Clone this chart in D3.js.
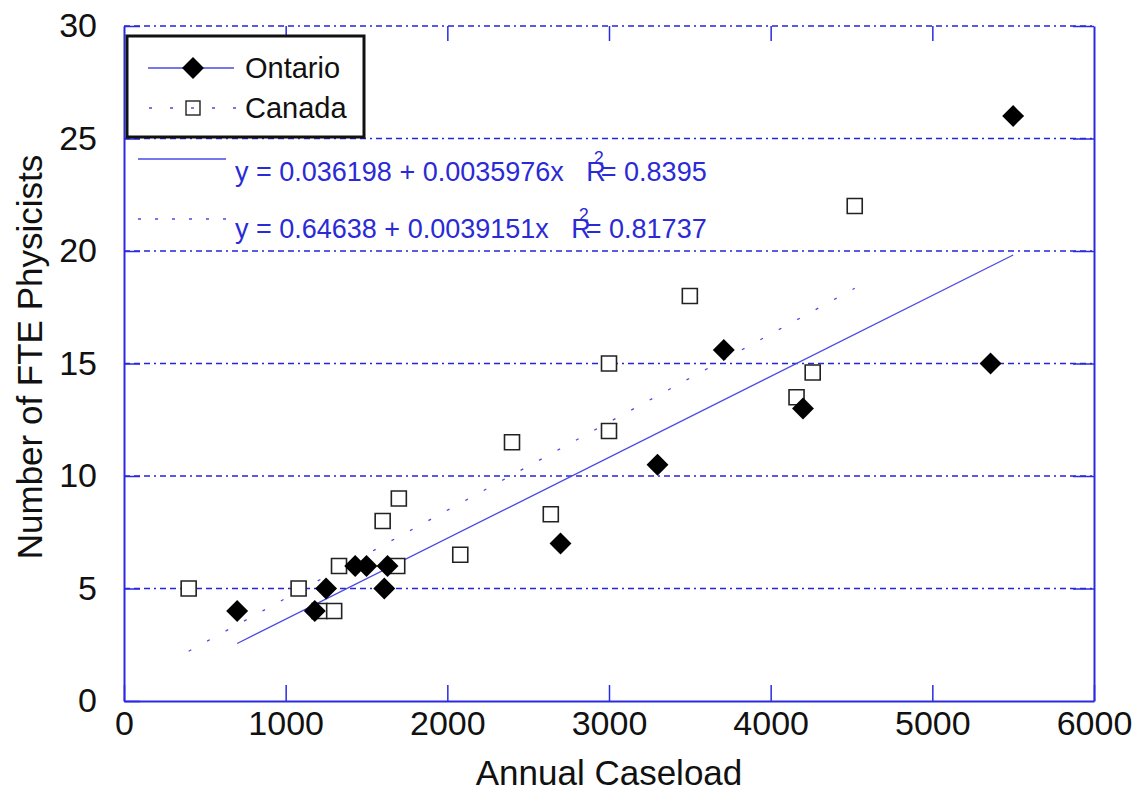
<!DOCTYPE html>
<html><head><meta charset="utf-8">
<script src="https://cdn.jsdelivr.net/npm/d3@7"></script>
<style>
body{margin:0;background:#fff;}
text{font-family:"Liberation Sans",Arial,sans-serif;}
</style></head>
<body><svg id="c" width="1133" height="791"></svg>
<script>
// ---- data ----
const xTicks = [0, 1000, 2000, 3000, 4000, 5000, 6000];
const yTicks = [0, 5, 10, 15, 20, 25, 30];
const ontarioX = [700, 1180, 1250, 1430, 1500, 1630, 1610, 2700, 3300, 3710, 4200, 5360, 5500];
const ontarioY = [4, 4, 5, 6, 6, 6, 5, 7, 10.5, 15.6, 13, 15, 26];
const canadaX = [400, 1080, 1210, 1300, 1330, 1690, 1600, 1700, 2080, 2400, 2640, 3000, 3000, 3500, 4160, 4260, 4520];
const canadaY = [5, 5, 4, 4, 6, 6, 8, 9, 6.5, 11.5, 8.3, 15, 12, 18, 13.5, 14.6, 22];
const seriesNames = ["Ontario", "Canada"];
const fitIntercepts = [0.036198, 0.64638];
const fitSlopes = [0.0035976, 0.0039151];
const fitR2 = ["0.8395", "0.81737"];
const xTitle = "Annual Caseload";
const yTitle = "Number of FTE Physicists";

// ---- layout ----
const svg = d3.select("#c");
const W = 1133, H = 791;
const m = {left:124, right:39, top:26, bottom:90};
const x = d3.scaleLinear().domain([0, 6000]).range([m.left, W - m.right]);
const y = d3.scaleLinear().domain([0, 30]).range([H - m.bottom, m.top]);
const BLUE = "#2a2ae0", GRID = "#2626d8", FIT = "#4a4ae6", EQ = "#2a2ad6";

// gridlines
svg.append("g").selectAll("line").data(yTicks.filter(d => d > 0)).join("line")
  .attr("x1", x(0)).attr("x2", x(6000)).attr("y1", d => y(d)).attr("y2", d => y(d))
  .attr("stroke", GRID).attr("stroke-width", 1.3)
  .attr("stroke-dasharray", "6,4,6,4,6,4,2,4");

// axes
function styleAxis(g, labels) {
  g.select(".domain").attr("stroke", BLUE).attr("stroke-width", 2);
  g.selectAll(".tick line").attr("stroke", BLUE).attr("stroke-width", 1.5);
  if (!labels) g.selectAll(".tick text").remove();
  else g.selectAll(".tick text").attr("fill", "#111").attr("font-size", 34)
        .attr("font-family", '"Liberation Sans",Arial,sans-serif');
}
svg.append("g").attr("transform", `translate(0,${y(0)})`)
  .call(d3.axisBottom(x).tickValues(xTicks).tickFormat(d3.format("d")).tickSizeInner(-16).tickSizeOuter(0).tickPadding(10))
  .call(g => styleAxis(g, true));
svg.append("g").attr("transform", `translate(${x(0)},0)`)
  .call(d3.axisLeft(y).tickValues(yTicks).tickFormat(d3.format("d")).tickSizeInner(-16).tickSizeOuter(0).tickPadding(27))
  .call(g => styleAxis(g, true));
svg.append("g").attr("transform", `translate(0,${y(30)})`)
  .call(d3.axisTop(x).tickValues(xTicks.slice(1, -1)).tickSizeInner(-15).tickSizeOuter(0))
  .call(g => { styleAxis(g, false); g.select(".domain").remove(); });
svg.append("g").attr("transform", `translate(${x(6000)},0)`)
  .call(d3.axisRight(y).tickValues(yTicks.slice(1)).tickSizeInner(-21).tickSizeOuter(0))
  .call(g => styleAxis(g, false));

// fit lines
const xsets = [ontarioX, canadaX];
const dashes = [null, "3,18"];
[0, 1].forEach(i => {
  const [lo, hi] = d3.extent(xsets[i]);
  svg.append("line")
    .attr("x1", x(lo)).attr("y1", y(fitIntercepts[i] + fitSlopes[i] * lo))
    .attr("x2", x(hi)).attr("y2", y(fitIntercepts[i] + fitSlopes[i] * hi))
    .attr("stroke", FIT).attr("stroke-width", 1.3)
    .attr("stroke-dasharray", dashes[i]);
});

// points
const sq = d3.symbol().type(d3.symbolSquare).size(225);
const dia = d3.symbol().type(d3.symbolSquare).size(240);
svg.append("g").selectAll("path").data(d3.zip(canadaX, canadaY)).join("path")
  .attr("d", sq).attr("transform", d => `translate(${x(d[0])},${y(d[1])})`)
  .attr("fill", "#fff").attr("stroke", "#222").attr("stroke-width", 1.6);
svg.append("g").selectAll("path").data(d3.zip(ontarioX, ontarioY)).join("path")
  .attr("d", dia).attr("transform", d => `translate(${x(d[0])},${y(d[1])}) rotate(45)`)
  .attr("fill", "#000");

// legend
const lg = svg.append("g");
lg.append("rect").attr("x", 127).attr("y", 36).attr("width", 237).attr("height", 101)
  .attr("fill", "#fff").attr("stroke", "#111").attr("stroke-width", 3);
const legY = [68, 108];
lg.append("line").attr("x1", 148).attr("x2", 234).attr("y1", legY[0]).attr("y2", legY[0])
  .attr("stroke", FIT).attr("stroke-width", 1.4);
lg.append("line").attr("x1", 149).attr("x2", 236).attr("y1", legY[1]).attr("y2", legY[1])
  .attr("stroke", FIT).attr("stroke-width", 1.4).attr("stroke-dasharray", "3,18");
lg.append("path").attr("d", d3.symbol().type(d3.symbolSquare).size(240))
  .attr("transform", `translate(193,${legY[0]}) rotate(45)`).attr("fill", "#000");
lg.append("rect").attr("x", 186).attr("y", legY[1] - 7).attr("width", 14).attr("height", 14)
  .attr("fill", "#fff").attr("stroke", "#222").attr("stroke-width", 1.4);
lg.append("line").attr("x1", 191).attr("x2", 194).attr("y1", legY[1]).attr("y2", legY[1])
  .attr("stroke", FIT).attr("stroke-width", 1.4);
lg.selectAll("text.lt").data(seriesNames).join("text").attr("class", "lt")
  .attr("x", 245).attr("y", (d, i) => legY[i] + 10).attr("font-size", 29).attr("fill", "#111")
  .text(d => d);

// equations
const eqLineY = [159, 219];
const eqTextY = [181, 238];
[0, 1].forEach(i => {
  svg.append("line").attr("x1", 138).attr("x2", 226).attr("y1", eqLineY[i]).attr("y2", eqLineY[i])
    .attr("stroke", FIT).attr("stroke-width", 1.4).attr("stroke-dasharray", dashes[i] ? "3,14" : null);
  const t = svg.append("text").attr("x", 235).attr("y", eqTextY[i]).attr("font-size", 27)
    .attr("fill", EQ).style("white-space", "pre");
  t.append("tspan").text(`y = ${fitIntercepts[i]} + ${fitSlopes[i]}x   R`);
  t.append("tspan").attr("dx", -12).attr("dy", -17).attr("font-size", 18).text("2");
  t.append("tspan").attr("dx", -3).attr("dy", 17).text(`= ${fitR2[i]}`);
});

// axis titles
svg.append("text").attr("x", (x(0) + x(6000)) / 2).attr("y", 785).attr("text-anchor", "middle")
  .attr("font-size", 35).attr("fill", "#111").text(xTitle);
svg.append("text").attr("transform", `translate(42,357) rotate(-90)`).attr("text-anchor", "middle")
  .attr("font-size", 35).attr("fill", "#111").text(yTitle);
</script></body></html>
